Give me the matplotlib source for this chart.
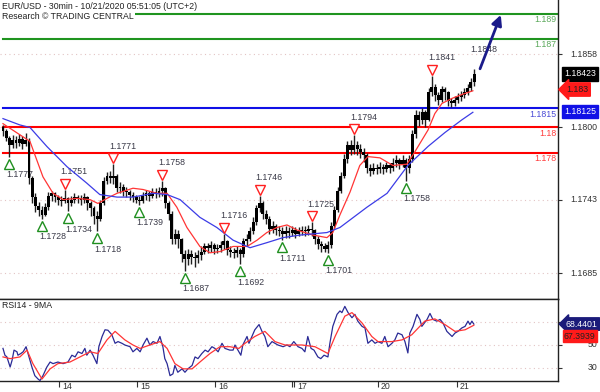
import matplotlib
matplotlib.use("Agg")
import matplotlib.pyplot as plt
import numpy as np
from matplotlib import transforms
from matplotlib.patches import FancyArrowPatch

# ---------------- data ----------------
title_1 = "EUR/USD - 30min - 10/21/2020 05:51:05 (UTC+2)"
title_2 = "Research © TRADING CENTRAL"
rsi_title = "RSI14 - 9MA"

first_open = 1.1800
closes = [1.1797, 1.1792, 1.1786, 1.1790, 1.1788, 1.1791, 1.1787, 1.1790, 1.1760, 1.1745,
          1.1738, 1.1735, 1.1731, 1.1737, 1.1746, 1.1748, 1.1745, 1.1743, 1.1742, 1.1744,
          1.1740, 1.1743, 1.1745, 1.1744, 1.1743, 1.1745, 1.1740, 1.1736, 1.1730, 1.1728,
          1.1740, 1.1758, 1.1762, 1.1760, 1.1762, 1.1752, 1.1753, 1.1750, 1.1749, 1.1747,
          1.1745, 1.1743, 1.1742, 1.1746, 1.1748, 1.1746, 1.1749, 1.1748, 1.1750, 1.1752,
          1.1740, 1.1732, 1.1712, 1.1716, 1.1712, 1.1700, 1.1696, 1.1700, 1.1698, 1.1697,
          1.1699, 1.1702, 1.1706, 1.1705, 1.1707, 1.1704, 1.1705, 1.1707, 1.1710, 1.1703,
          1.1702, 1.1701, 1.1703, 1.1700, 1.1710, 1.1712, 1.1718, 1.1725, 1.1736, 1.1740,
          1.1732, 1.1728, 1.1720, 1.1722, 1.1719, 1.1718, 1.1716, 1.1718, 1.1717, 1.1719,
          1.1716, 1.1718, 1.1719, 1.1718, 1.1720, 1.1719, 1.1712, 1.1708, 1.1706, 1.1704,
          1.1707, 1.1722, 1.1735, 1.1750, 1.1762, 1.1775, 1.1786, 1.1782, 1.1786, 1.1783,
          1.1781, 1.1778, 1.1768, 1.1766, 1.1768, 1.1767, 1.1769, 1.1767, 1.1770, 1.1768,
          1.1772, 1.1774, 1.1771, 1.1774, 1.1768, 1.1775, 1.1795, 1.1810, 1.1806, 1.1812,
          1.1806, 1.1828, 1.1832, 1.1826, 1.1822, 1.1830, 1.1828, 1.1821, 1.1819, 1.1822,
          1.1824, 1.1826, 1.1828, 1.1831, 1.1836, 1.18423]
highs = [1.1802, 1.1799, 1.1793, 1.1794, 1.1793, 1.1795, 1.1793, 1.1796, 1.1792, 1.1762,
         1.1748, 1.1741, 1.1738, 1.1740, 1.1749, 1.1750, 1.1749, 1.1747, 1.1746, 1.1751,
         1.1745, 1.1746, 1.1748, 1.1747, 1.1747, 1.1748, 1.1746, 1.1742, 1.1738, 1.1734,
         1.1743, 1.1761, 1.1765, 1.1766, 1.1771, 1.1763, 1.1757, 1.1755, 1.1753, 1.1751,
         1.1749, 1.1747, 1.1746, 1.1749, 1.1751, 1.1750, 1.1752, 1.1752, 1.1753, 1.1758,
         1.1753, 1.1742, 1.1734, 1.1720, 1.1719, 1.1713, 1.1703, 1.1704, 1.1703, 1.1702,
         1.1703, 1.1706, 1.1709, 1.1709, 1.1710, 1.1709, 1.1708, 1.1710, 1.1716, 1.1711,
         1.1706, 1.1705, 1.1706, 1.1705, 1.1713, 1.1716, 1.1721, 1.1729, 1.1739, 1.1746,
         1.1742, 1.1735, 1.1730, 1.1726, 1.1724, 1.1722, 1.1721, 1.1722, 1.1721, 1.1722,
         1.1721, 1.1721, 1.1722, 1.1722, 1.1723, 1.1725, 1.1720, 1.1714, 1.1710, 1.1709,
         1.1710, 1.1725, 1.1738, 1.1753, 1.1765, 1.1779, 1.1789, 1.1790, 1.1794, 1.1789,
         1.1787, 1.1784, 1.1780, 1.1771, 1.1772, 1.1771, 1.1773, 1.1771, 1.1773, 1.1772,
         1.1776, 1.1778, 1.1776, 1.1778, 1.1776, 1.1778, 1.1798, 1.1814, 1.1813, 1.1815,
         1.1814, 1.1831, 1.1841, 1.1834, 1.1828, 1.1833, 1.1832, 1.1829, 1.1823, 1.1825,
         1.1827, 1.1829, 1.1831, 1.1834, 1.1839, 1.1846]
lows = [1.1793, 1.1789, 1.1777, 1.1784, 1.1784, 1.1785, 1.1783, 1.1785, 1.1755, 1.1740,
        1.1733, 1.1730, 1.1728, 1.1730, 1.1735, 1.1742, 1.1741, 1.1739, 1.1738, 1.1740,
        1.1734, 1.1738, 1.1740, 1.1740, 1.1739, 1.1740, 1.1735, 1.1730, 1.1724, 1.1718,
        1.1726, 1.1739, 1.1755, 1.1756, 1.1755, 1.1749, 1.1748, 1.1746, 1.1745, 1.1743,
        1.1741, 1.1740, 1.1739, 1.1740, 1.1743, 1.1742, 1.1744, 1.1744, 1.1745, 1.1746,
        1.1736, 1.1727, 1.1708, 1.1708, 1.1705, 1.1694, 1.1687, 1.1691, 1.1692, 1.1690,
        1.1693, 1.1695, 1.1700, 1.1701, 1.1702, 1.1700, 1.1701, 1.1702, 1.1704, 1.1699,
        1.1698, 1.1697, 1.1698, 1.1692, 1.1698, 1.1706, 1.1710, 1.1716, 1.1723, 1.1733,
        1.1728, 1.1724, 1.1716, 1.1717, 1.1715, 1.1714, 1.1711, 1.1713, 1.1713, 1.1714,
        1.1713, 1.1714, 1.1715, 1.1714, 1.1715, 1.1714, 1.1708, 1.1704, 1.1702, 1.1702,
        1.1701, 1.1705, 1.1720, 1.1733, 1.1748, 1.1760, 1.1772, 1.1778, 1.1779, 1.1778,
        1.1776, 1.1773, 1.1764, 1.1762, 1.1763, 1.1763, 1.1764, 1.1763, 1.1765, 1.1764,
        1.1766, 1.1769, 1.1767, 1.1769, 1.1758, 1.1764, 1.1773, 1.1792, 1.1801, 1.1803,
        1.1800, 1.1805, 1.1825, 1.1821, 1.1818, 1.1820, 1.1822, 1.1817, 1.1816, 1.1817,
        1.1819, 1.1821, 1.1823, 1.1826, 1.1829, 1.1833]

ma_fast_idx = [0, 8.3, 12.3, 15.4, 18.5, 22.8, 26.8, 29.2, 32.0, 35.1, 40.0, 43.1, 47.4, 50.5,
               53.5, 56.6, 60.6, 63.7, 66.8, 70.8, 75.1, 78.2, 81.2, 84.3, 87.4, 90.5, 95.4,
               99.7, 101.5, 103.7, 106.8, 109.8, 112.3, 116.0, 120.0, 124.3, 126.8, 130.8,
               132.9, 135.1, 138.2, 141.2, 144.6]
ma_fast = [1.1803, 1.1789, 1.1761, 1.1748, 1.1743, 1.1744, 1.1743, 1.1740, 1.1744, 1.1748,
           1.1752, 1.1751, 1.1748, 1.1748, 1.1737, 1.1721, 1.1706, 1.1701, 1.1702, 1.1706,
           1.1706, 1.1711, 1.1717, 1.1721, 1.1723, 1.1719, 1.1715, 1.1713, 1.1717, 1.1731,
           1.1749, 1.1770, 1.1777, 1.1776, 1.1770, 1.1771, 1.1781, 1.1798, 1.1811, 1.1819,
           1.1823, 1.1826, 1.1829]
ma_slow_idx = [0, 5.2, 8.3, 13.5, 19.7, 25.8, 29.8, 35.1, 40.0, 46.2, 50.5, 54.5, 60.6, 65.8,
               70.8, 76.0, 81.2, 86.2, 91.4, 99.7, 103.7, 112.0, 118.2, 124.6, 130.8, 136.0,
               141.2, 144.6]
ma_slow = [1.1807, 1.1802, 1.1800, 1.1785, 1.1769, 1.1756, 1.1747, 1.1745, 1.1745, 1.1748,
           1.1747, 1.1743, 1.1729, 1.1721, 1.1711, 1.1705, 1.1709, 1.1713, 1.1715, 1.1717,
           1.1721, 1.1737, 1.1748, 1.1770, 1.1785, 1.1796, 1.1806, 1.1812]

piv_idx = [2, 12, 19, 20, 29, 34, 42, 49, 56, 68, 73, 79, 86, 95, 100, 108, 124, 132]
piv_price = [1.1777, 1.1728, 1.1751, 1.1734, 1.1718, 1.1771, 1.1739, 1.1758, 1.1687, 1.1716,
             1.1692, 1.1746, 1.1711, 1.1725, 1.1701, 1.1794, 1.1758, 1.1841]
piv_kind = ["L", "L", "H", "L", "L", "H", "L", "H", "L", "H", "L", "H", "L", "H", "L", "H", "L", "H"]
last_high_label = (145, 1.1848)

levels = [1.1890, 1.1870, 1.1815, 1.1800, 1.1780]
level_labels = ["1.189", "1.187", "1.1815", "1.18", "1.178"]
level_colors = ["#1f941f", "#1f941f", "#1010e6", "#ff0000", "#ff0000"]
level_text_colors = ["#5aa85a", "#5aa85a", "#4a4ad6", "#ff3c3c", "#ff3c3c"]

price_ticks = [1.1858, 1.1800, 1.1743, 1.1685]
last_price = 1.18423
fast_last = 1.183
slow_last = 1.18125
target = (153.5, 1.1891)

rsi_idx = [0.0, 0.6, 1.2, 2.2, 2.8, 3.4, 4.3, 4.6, 5.5, 6.2, 7.1, 7.7, 8.9, 9.8, 10.8, 11.4,
           12.3, 13.5, 14.5, 15.4, 16.9, 18.5, 20.0, 21.2, 22.2, 23.1, 24.3, 25.2, 25.8, 26.8,
           27.7, 28.9, 29.5, 30.5, 31.4, 32.3, 33.5, 34.5, 35.4, 36.6, 37.5, 39.1, 40.0, 41.2,
           42.2, 43.1, 44.3, 45.2, 46.2, 47.4, 48.3, 49.2, 49.8, 50.5, 51.4, 52.3, 52.9, 53.8,
           55.1, 56.0, 56.9, 58.2, 59.1, 60.0, 61.2, 62.2, 63.1, 64.3, 65.2, 66.2, 67.4, 68.3,
           69.8, 70.8, 71.4, 72.0, 73.2, 73.8, 75.1, 75.7, 76.6, 77.5, 78.8, 79.7, 80.6, 81.5,
           82.8, 83.7, 84.6, 86.2, 87.4, 88.3, 89.5, 90.8, 92.0, 92.9, 93.8, 94.8, 95.7, 96.9,
           97.8, 98.8, 100.0, 100.6, 101.5, 102.8, 103.7, 104.3, 105.2, 106.2, 107.4, 108.3,
           109.2, 110.5, 111.4, 112.3, 113.5, 114.5, 115.4, 116.6, 117.5, 118.5, 119.7, 120.6,
           121.5, 122.8, 123.7, 124.6, 125.2, 126.2, 127.4, 128.3, 128.9, 130.5, 131.4, 132.3,
           133.5, 134.5, 135.4, 136.6, 138.2, 139.1, 140.0, 141.2, 142.2, 143.1, 143.7, 144.3,
           144.9]
rsi = [47, 41, 39.5, 30.6, 36.6, 45.5, 44, 41, 42.5, 44, 48.5, 42.5, 30.6, 23, 20, 18.7,
       23, 30.6, 35, 33.6, 35, 33.6, 35, 41, 39.5, 44, 42.5, 47, 41, 45.5,
       41, 33.6, 48.5, 57.5, 63.4, 63, 59, 51.5, 53, 51.5, 50, 48.5, 44, 47,
       44, 50, 56, 50, 53, 51.5, 57.5, 48.5, 38, 33.6, 23, 24.6, 32, 26,
       29, 26, 29, 32, 39.5, 38, 42.5, 45.5, 44, 48.5, 47, 44, 51.5, 47,
       45.5, 45.5, 50, 47, 41, 50, 57.5, 51.5, 57.5, 63.4, 68, 62, 57.5, 48.5,
       53, 51.5, 50, 48.5, 50, 48.5, 53, 48.5, 47, 44, 57.5, 47, 45.5, 39.5,
       38, 41, 39.5, 51.5, 66.4, 77, 80, 78.5, 84, 78.5, 74, 77,
       71, 66.4, 65, 51.5, 54.5, 51.5, 53, 51.5, 57.5, 48.5, 51.5, 54.5,
       60.5, 59, 53, 43, 60.5, 66.4, 77, 72.5, 66.4, 72.5, 77.8, 72.5,
       71, 72.5, 69.4, 62, 57.5, 60.5, 62, 65, 66.4, 71, 68, 71,
       68.4]
rsi_ma_idx = [0, 2.2, 5.2, 7.4, 9.2, 12, 14.5, 16.9, 20.6, 23.7, 26.8, 29.2, 32, 34.5, 37.5,
              40, 42.2, 45.2, 48.3, 50.5, 52.9, 55.4, 58.2, 60.6, 63.7, 66.8, 69.8, 72.6,
              74.5, 77.5, 80.6, 83.7, 86.8, 92, 96, 100, 102.2, 105.2, 107.4, 110.5, 113.5,
              115.4, 119.7, 122.8, 125.8, 129.8, 132.9, 136, 139.1, 142.2, 144.9]
rsi_ma = [39.5, 38, 39.5, 45.5, 33.6, 20, 29, 33.6, 35, 39.5, 44, 42.5, 54.5, 62, 54.5,
          50, 47, 50, 53, 47, 33.6, 29, 29, 35, 42.5, 48.5, 48.5, 47,
          51.5, 57.5, 62, 53, 50, 50, 48.5, 42.5, 57.5, 75.4, 78.5, 69.4, 57.5,
          53, 53, 54.5, 59, 71, 73, 68, 62, 63.4, 67.4]
rsi_ticks = [70, 50, 30]
rsi_last = 68.4401
rsi_ma_last = 67.3939

day_ticks = [17.2, 41.2, 65.2, 89.7, 115.4, 139.7]
day_labels = ["14", "15", "16", "17", "20", "21"]
extra_day_tick = [89.0]

# ---------------- figure ----------------
plt.rcParams["font.family"] = ["Liberation Sans", "DejaVu Sans"]
FS = 6.3
TXT = "#333333"

fig = plt.figure(figsize=(6, 3.92), dpi=100)


def px_axes(l, t, r, b):
    return fig.add_axes([l / 600, 1 - b / 392, (r - l) / 600, (b - t) / 392])


ax = px_axes(0, 0, 558, 299)
ax2 = px_axes(0, 299, 558, 381)
for a in (ax, ax2):
    a.set_xlim(-0.92, 170.8)
    a.set_facecolor("white")
    a.spines["left"].set_visible(False)
    for s in ("right", "bottom", "top"):
        a.spines[s].set_linewidth(1.0)
        a.spines[s].set_color("#222222")
ax.spines["top"].set_visible(False)
ax.set_ylim(1.16645, 1.19007)
ax2.set_ylim(18.3, 90.5)

# price grid and ticks
ax.set_xticks([])
ax.set_yticks(price_ticks)
ax.yaxis.tick_right()
ax.tick_params(axis="y", direction="out", length=3, width=0.8, labelright=False, color="#333333")
ax.grid(axis="y", color="#e2c4c4", linestyle=(0, (1, 3)), linewidth=0.8)
ax.set_axisbelow(True)

trans_r = transforms.blended_transform_factory(fig.transFigure, ax.transData)
for v in price_ticks:
    ax.text(597 / 600, v, f"{v:.4f}", transform=trans_r, ha="right", va="center",
            fontsize=FS, color=TXT)

# level lines
for lv, lab, c, tc in zip(levels, level_labels, level_colors, level_text_colors):
    ax.axhline(lv, xmin=0.005, xmax=1, color=c, lw=1.5, zorder=2)
    tr = transforms.offset_copy(ax.transData, fig=fig, x=0, y=-6, units="dots")
    ax.text(170.3, lv, lab, transform=tr, ha="right", va="center", fontsize=FS, color=tc,
            zorder=2)

# candles
close = np.array(closes)
open_ = np.r_[first_open, close[:-1]]
idx = np.arange(len(close))
ax.vlines(idx, lows, highs, color="#202020", lw=1.0, zorder=3)
body_lo = np.minimum(open_, close)
body_h = np.maximum(np.abs(close - open_), 0.0001)
ax.bar(idx, body_h, bottom=body_lo, width=0.9, color="black", zorder=3, linewidth=0)

# moving averages
ax.plot(ma_fast_idx, ma_fast, color="#ff3535", lw=0.9, zorder=4)
ax.plot(ma_slow_idx, ma_slow, color="#3c3ce6", lw=0.9, zorder=4)

# pivots
for i, p, k in zip(piv_idx, piv_price, piv_kind):
    if k == "L":
        trm = transforms.offset_copy(ax.transData, fig=fig, x=0, y=-7, units="dots")
        ax.plot([i], [p], marker="^", ms=6.5, mfc="white", mec="#1f8f1f", mew=1.0,
                transform=trm, zorder=5)
        trt = transforms.offset_copy(ax.transData, fig=fig, x=-3, y=-18, units="dots")
    else:
        trm = transforms.offset_copy(ax.transData, fig=fig, x=0, y=6, units="dots")
        ax.plot([i], [p], marker="v", ms=6.5, mfc="white", mec="#ff2020", mew=1.0,
                transform=trm, zorder=5)
        trt = transforms.offset_copy(ax.transData, fig=fig, x=-4, y=18, units="dots")
    ax.text(i, p, f"{p:.4f}", transform=trt, ha="left", va="center", fontsize=FS,
            color="#3a3a48", zorder=2.5)
trl = transforms.offset_copy(ax.transData, fig=fig, x=-4, y=17, units="dots")
ax.text(last_high_label[0], last_high_label[1], f"{last_high_label[1]:.4f}", transform=trl,
        ha="left", va="center", fontsize=FS, color="#3a3a48", zorder=2.5)

# forecast arrow
arr = FancyArrowPatch((idx[-1] + 1.5, close[-1] + 0.0002), target, arrowstyle="-|>",
                      mutation_scale=15, lw=2.0, color="#1b1b8a", zorder=6)
ax.add_patch(arr)

# value boxes (main)
ax.text(564 / 600, last_price, f"{last_price:.5f}", transform=trans_r, ha="left",
        va="center", fontsize=FS, color="white",
        bbox=dict(boxstyle="square,pad=0.25", fc="black", ec="black"))
ax.text(566 / 600, fast_last, f"{fast_last:.3f}", transform=trans_r, ha="left",
        va="center", fontsize=FS, color="#222222",
        bbox=dict(boxstyle="larrow,pad=0.25", fc="#ff1a1a", ec="#ff1a1a"))
ax.text(564 / 600, slow_last, f"{slow_last:.5f}", transform=trans_r, ha="left",
        va="center", fontsize=FS, color="white",
        bbox=dict(boxstyle="square,pad=0.25", fc="#1010e6", ec="#1010e6"))

# titles
fig.text(2 / 600, 1 - 6.5 / 392, title_1, ha="left", va="center", fontsize=FS, color="#222222")
fig.text(2 / 600, 1 - 16.5 / 392, title_2, ha="left", va="center", fontsize=FS, color="#222222",
         bbox=dict(boxstyle="square,pad=0.15", fc="white", ec="none"))

# ---------------- RSI panel ----------------
ax2.set_yticks(rsi_ticks)
ax2.yaxis.tick_right()
ax2.tick_params(axis="y", direction="out", length=3, width=0.8, labelright=False, color="#333333")
ax2.grid(axis="y", color="#e2c4c4", linestyle=(0, (1, 3)), linewidth=0.8)
ax2.set_axisbelow(True)
ax2.plot(rsi_idx, rsi, color="#2a2a96", lw=0.9, zorder=3)
ax2.plot(rsi_ma_idx, rsi_ma, color="#ff3535", lw=0.9, zorder=4)
trans_r2 = transforms.blended_transform_factory(fig.transFigure, ax2.transData)
for v in rsi_ticks[1:]:
    ax2.text(597 / 600, v, f"{v}", transform=trans_r2, ha="right", va="center",
             fontsize=FS, color=TXT)
ax2.text(566 / 600, rsi_last, f"{rsi_last:.4f}", transform=trans_r2, ha="left",
         va="center", fontsize=FS, color="white",
         bbox=dict(boxstyle="larrow,pad=0.2", fc="#1b1b7a", ec="#1b1b7a"))
ax2.text(564 / 600, rsi_ma_last - 9.5, f"{rsi_ma_last:.4f}", transform=trans_r2, ha="left",
         va="center", fontsize=FS, color="#222222",
         bbox=dict(boxstyle="square,pad=0.15", fc="#ff1a1a", ec="#ff1a1a"))
fig.text(2 / 600, 1 - 306 / 392, rsi_title, ha="left", va="center", fontsize=FS, color="#222222")

ax2.set_xticks(day_ticks)
ax2.set_xticks(extra_day_tick, minor=True)
ax2.tick_params(axis="x", which="both", direction="out", length=4, width=0.8,
                labelbottom=False, color="#333333")
trx = transforms.offset_copy(transforms.blended_transform_factory(ax2.transData, fig.transFigure),
                             fig=fig, x=3, y=0, units="dots")
for t, lab in zip(day_ticks, day_labels):
    ax2.text(t, 1 - 386.5 / 392, lab, transform=trx, ha="left", va="center", fontsize=FS,
             color=TXT)

fig.savefig("out.png", dpi=100)
